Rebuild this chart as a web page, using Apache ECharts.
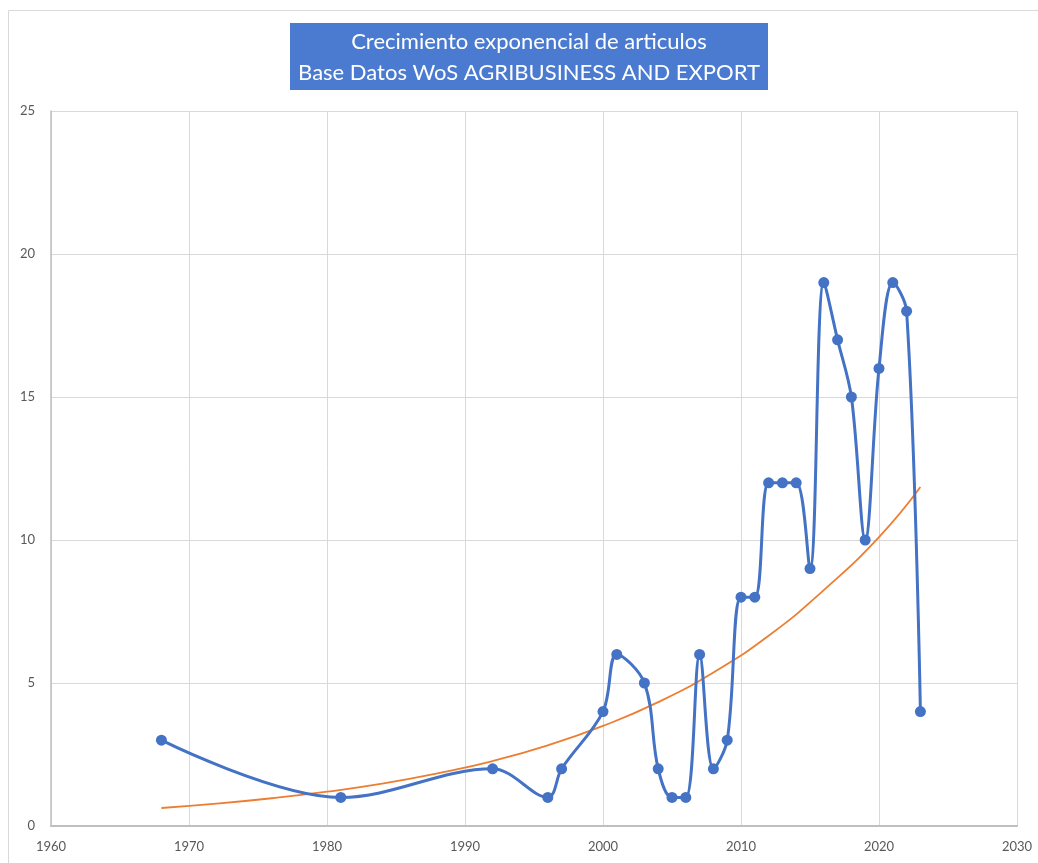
<!DOCTYPE html>
<html>
<head>
<meta charset="utf-8">
<script src="https://cdn.jsdelivr.net/npm/echarts@6/dist/echarts.min.js"></script>
<style>
  html, body { margin: 0; padding: 0; background: #fff; }
  #chart { width: 1038px; height: 863px; }
</style>
</head>
<body>
<div id="chart"></div>
<script>
// Articles per year (WoS: agribusiness and export)
const years    = [1968, 1981, 1992, 1996, 1997, 2000, 2001, 2003, 2004, 2005, 2006, 2007, 2008, 2009,
                  2010, 2011, 2012, 2013, 2014, 2015, 2016, 2017, 2018, 2019, 2020, 2021, 2022, 2023];
const articles = [3, 1, 2, 1, 2, 4, 6, 5, 2, 1, 1, 6, 2, 3,
                  8, 8, 12, 12, 12, 9, 19, 17, 15, 10, 16, 19, 18, 4];

// Exponential trend line, sampled along its course
const trendYears  = [1968, 1972, 1976, 1980, 1984, 1988, 1992, 1996, 2000, 2004, 2008, 2012, 2016, 2020, 2023];
const trendValues = [0.63, 0.78, 0.97, 1.2, 1.48, 1.84, 2.27, 2.82, 3.5, 4.33, 5.37, 6.65, 8.25, 10.1, 11.85];

// Axis ticks
const xTicks = { min: 1960, max: 2030, step: 10 };
const yTicks = { min: 0, max: 25, step: 5 };

const titleLines = ['Crecimiento exponencial de articulos', 'Base Datos WoS AGRIBUSINESS AND EXPORT'];

const chart = echarts.init(document.getElementById('chart'));
const labelFont = 'Lato, "Open Sans", sans-serif';

chart.setOption({
  animation: false,
  backgroundColor: '#ffffff',
  graphic: [
    {
      type: 'rect', z: -1,
      shape: { x: 8.5, y: 10.5, width: 1040, height: 870 },
      style: { fill: 'none', stroke: '#d9d9d9', lineWidth: 1 }
    },
    {
      type: 'rect',
      shape: { x: 290, y: 23, width: 478, height: 67 },
      style: { fill: '#4a7bd0' }
    },
    {
      type: 'text',
      x: 529, y: 42,
      style: {
        text: titleLines[0], fill: '#ffffff',
        font: '22px ' + labelFont, align: 'center', verticalAlign: 'middle'
      }
    },
    {
      type: 'text',
      x: 529, y: 73,
      style: {
        text: titleLines[1], fill: '#ffffff',
        font: '22px ' + labelFont, align: 'center', verticalAlign: 'middle'
      }
    }
  ],
  grid: { left: 51, right: 21, top: 111, bottom: 37, containLabel: false },
  xAxis: {
    type: 'value',
    min: xTicks.min, max: xTicks.max, interval: xTicks.step,
    axisLine: { show: true, onZero: false, lineStyle: { color: '#bfbfbf', width: 2 } },
    axisTick: { show: false },
    axisLabel: {
      color: '#595959', fontSize: 13, fontFamily: labelFont, margin: 14,
      formatter: v => String(v)
    },
    splitLine: { show: true, lineStyle: { color: '#d9d9d9', width: 1 } }
  },
  yAxis: {
    type: 'value',
    min: yTicks.min, max: yTicks.max, interval: yTicks.step,
    axisLine: { show: true, lineStyle: { color: '#bfbfbf', width: 1.5 } },
    axisTick: { show: false },
    axisLabel: { color: '#595959', fontSize: 13, fontFamily: labelFont, margin: 16 },
    splitLine: { show: true, lineStyle: { color: '#d9d9d9', width: 1 } }
  },
  series: [
    {
      name: 'Tendencia',
      type: 'line',
      data: trendYears.map((y, i) => [y, trendValues[i]]),
      smooth: true,
      showSymbol: false,
      lineStyle: { color: '#ed7d31', width: 1.8 },
      z: 2
    },
    {
      name: 'Artículos',
      type: 'line',
      data: years.map((y, i) => [y, articles[i]]),
      smooth: 0.35,
      symbol: 'circle',
      symbolSize: 11,
      itemStyle: { color: '#4472c4' },
      lineStyle: { color: '#4472c4', width: 3 },
      z: 3
    }
  ]
});
</script>
</body>
</html>
